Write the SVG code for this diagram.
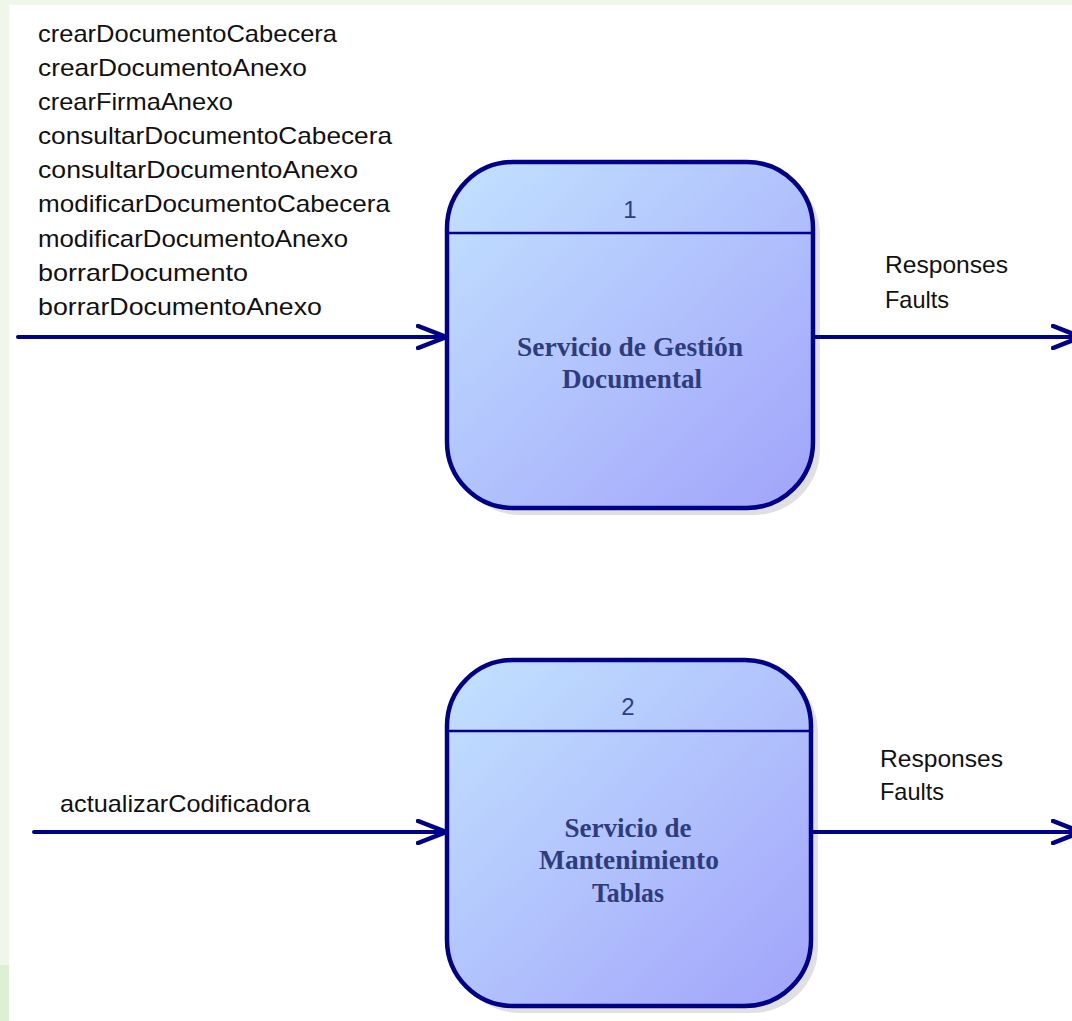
<svg xmlns="http://www.w3.org/2000/svg" width="1072" height="1021" viewBox="0 0 1072 1021">
  <defs>
    <linearGradient id="procFill" x1="0" y1="0" x2="1" y2="1">
      <stop offset="0" stop-color="#C2E2FF"/>
      <stop offset="1" stop-color="#A1A3FA"/>
    </linearGradient>
    <marker id="arrowOpen" viewBox="0 0 32 26" markerWidth="32" markerHeight="26" refX="30" refY="13" orient="auto" markerUnits="userSpaceOnUse">
      <path d="M2,2 L30,13 L2,24" fill="none" stroke="#000088" stroke-width="4.5" stroke-linejoin="miter" stroke-linecap="round"/>
    </marker>
    <style>
      .flow { stroke: #000088; stroke-width: 4; fill: none; stroke-linecap: round; }
      .shadow { fill: #E0E0E0; }
      .box { fill: url(#procFill); stroke: #000088; stroke-width: 4.5; }
      .divider { stroke: #000088; stroke-width: 2.5; }
      .num { font-family: "Liberation Sans", Arial, sans-serif; font-size: 24px; fill: #2F3E7E; text-anchor: middle; }
      .title { font-family: "Liberation Serif", "Times New Roman", serif; font-weight: bold; font-size: 27px; fill: #2E3C7E; text-anchor: middle; }
      .label { font-family: "Liberation Sans", Arial, sans-serif; font-size: 24px; fill: #111111; }
    </style>
  </defs>

  <!-- page background with pale green margin -->
  <rect x="0" y="0" width="1072" height="1021" fill="#EFF7EA"/>
  <rect x="0" y="965" width="9" height="56" fill="#DDEFD4"/>
  <rect x="9" y="5" width="1063" height="1016" fill="#FFFFFF"/>

  <!-- process 1 -->
  <g id="process-1">
    <rect class="shadow" x="454" y="169" width="366" height="346" rx="66"/>
    <rect class="box" x="447" y="162" width="366" height="346" rx="66"/>
    <line class="divider" x1="447" y1="233" x2="813" y2="233"/>
    <text class="num" x="630" y="218">1</text>
    <text class="title" x="630" y="356" textLength="226" lengthAdjust="spacingAndGlyphs">Servicio de Gestión</text>
    <text class="title" x="632" y="388" textLength="140" lengthAdjust="spacingAndGlyphs">Documental</text>
  </g>

  <!-- process 2 -->
  <g id="process-2">
    <rect class="shadow" x="454" y="667" width="364" height="346" rx="66"/>
    <rect class="box" x="447" y="660" width="364" height="346" rx="66"/>
    <line class="divider" x1="447" y1="731" x2="811" y2="731"/>
    <text class="num" x="628" y="715">2</text>
    <text class="title" x="628" y="837" textLength="127" lengthAdjust="spacingAndGlyphs">Servicio de</text>
    <text class="title" x="629" y="869" textLength="180" lengthAdjust="spacingAndGlyphs">Mantenimiento</text>
    <text class="title" x="628" y="902" textLength="72" lengthAdjust="spacingAndGlyphs">Tablas</text>
  </g>

  <!-- data flow connectors -->
  <g id="connectors">
    <line class="flow" x1="18" y1="337" x2="446" y2="337" marker-end="url(#arrowOpen)"/>
    <line class="flow" x1="815" y1="337" x2="1081" y2="337" marker-end="url(#arrowOpen)"/>
    <line class="flow" x1="34" y1="832" x2="446" y2="832" marker-end="url(#arrowOpen)"/>
    <line class="flow" x1="813" y1="832" x2="1081" y2="832" marker-end="url(#arrowOpen)"/>

    <g id="labels-in-1" class="label">
      <text x="38" y="42" textLength="299" lengthAdjust="spacingAndGlyphs">crearDocumentoCabecera</text>
      <text x="38" y="76" textLength="269" lengthAdjust="spacingAndGlyphs">crearDocumentoAnexo</text>
      <text x="38" y="110" textLength="195" lengthAdjust="spacingAndGlyphs">crearFirmaAnexo</text>
      <text x="38" y="144" textLength="354" lengthAdjust="spacingAndGlyphs">consultarDocumentoCabecera</text>
      <text x="38" y="178" textLength="320" lengthAdjust="spacingAndGlyphs">consultarDocumentoAnexo</text>
      <text x="38" y="212" textLength="352" lengthAdjust="spacingAndGlyphs">modificarDocumentoCabecera</text>
      <text x="38" y="247" textLength="310" lengthAdjust="spacingAndGlyphs">modificarDocumentoAnexo</text>
      <text x="38" y="281" textLength="210" lengthAdjust="spacingAndGlyphs">borrarDocumento</text>
      <text x="38" y="315" textLength="284" lengthAdjust="spacingAndGlyphs">borrarDocumentoAnexo</text>
    </g>
    <g id="labels-out-1" class="label">
      <text x="885" y="273" textLength="123" lengthAdjust="spacingAndGlyphs">Responses</text>
      <text x="885" y="308" textLength="64" lengthAdjust="spacingAndGlyphs">Faults</text>
    </g>
    <g id="labels-in-2" class="label">
      <text x="60" y="812" textLength="250" lengthAdjust="spacingAndGlyphs">actualizarCodificadora</text>
    </g>
    <g id="labels-out-2" class="label">
      <text x="880" y="767" textLength="123" lengthAdjust="spacingAndGlyphs">Responses</text>
      <text x="880" y="800" textLength="64" lengthAdjust="spacingAndGlyphs">Faults</text>
    </g>
  </g>
</svg>
